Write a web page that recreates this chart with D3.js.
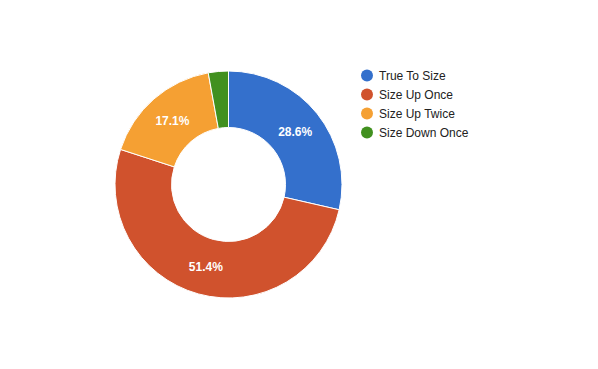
<!DOCTYPE html>
<html><head><meta charset="utf-8">
<script src="https://cdn.jsdelivr.net/npm/d3@7"></script>
<style>body{margin:0;background:#fff}svg{display:block}</style>
</head><body>
<script>
const categories = ["True To Size", "Size Up Once", "Size Up Twice", "Size Down Once"];
const values = [10, 18, 6, 1];
const colors = ["#3470cc", "#d0522d", "#f5a033", "#41901f"];

const W = 598, H = 369;
const cx = 228.5, cy = 184.5, R = 113.5, IR = 57;
const svg = d3.select("body").append("svg").attr("width", W).attr("height", H);
const total = d3.sum(values);
const pie = d3.pie().sort(null).value(d => d)(values);
const arc = d3.arc().innerRadius(IR).outerRadius(R);
const labelArc = d3.arc().innerRadius((R + IR) / 2).outerRadius((R + IR) / 2);
const g = svg.append("g").attr("transform", `translate(${cx},${cy})`);
g.selectAll("path").data(pie).join("path")
  .attr("d", arc).attr("fill", (d, i) => colors[i])
  .attr("stroke", "#fff").attr("stroke-width", 1);
g.selectAll("text").data(pie.filter(d => d.value / total > 0.05)).join("text")
  .attr("transform", d => `translate(${labelArc.centroid(d)})`)
  .attr("text-anchor", "middle").attr("dy", "0.35em")
  .attr("fill", "#fff").attr("font-family", "Arial, Liberation Sans, sans-serif")
  .attr("font-size", 12).attr("font-weight", "bold")
  .text(d => (d.value / total * 100).toFixed(1) + "%");

const lg = svg.append("g").attr("transform", "translate(367,75.5)");
const items = lg.selectAll("g").data(categories).join("g")
  .attr("transform", (d, i) => `translate(0,${i * 19})`);
items.append("circle").attr("r", 6).attr("fill", (d, i) => colors[i]);
items.append("text").attr("x", 12).attr("dy", "0.35em")
  .attr("font-family", "Arial, Liberation Sans, sans-serif").attr("font-size", 12)
  .attr("fill", "#222").text(d => d);
</script>
</body></html>
